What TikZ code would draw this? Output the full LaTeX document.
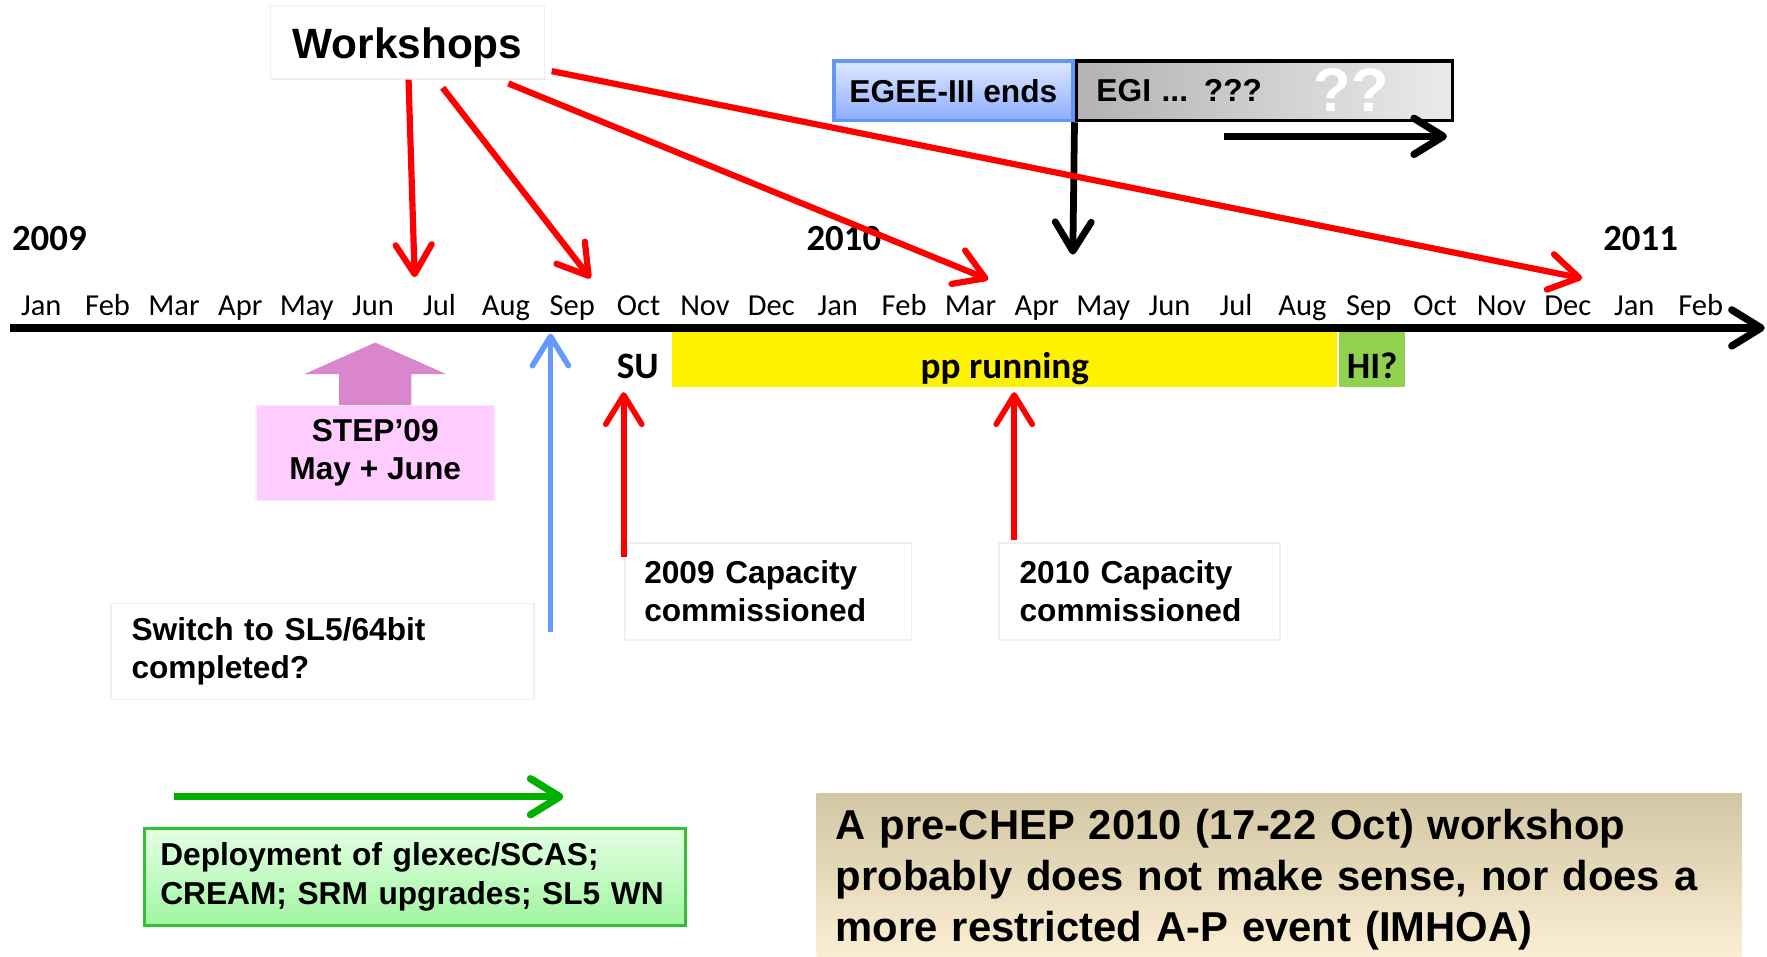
\documentclass[tikz,border=0pt]{standalone}
\usepackage{fontspec}
\setmainfont{Liberation Sans}
\newfontfamily\calibri{Carlito}
\usetikzlibrary{arrows.meta,positioning}

\definecolor{stepfill}{RGB}{255,204,255}
\definecolor{steparrow}{RGB}{217,134,204}
\definecolor{slblue}{RGB}{102,153,255}
\definecolor{egeetop}{RGB}{222,231,255}
\definecolor{egeebot}{RGB}{140,174,255}
\definecolor{egeeline}{RGB}{100,150,245}
\definecolor{higreen}{RGB}{146,208,80}
\definecolor{depgreen}{RGB}{0,176,0}
\definecolor{deptop}{RGB}{228,255,228}
\definecolor{depbot}{RGB}{160,245,160}
\definecolor{cheptop}{RGB}{211,198,163}
\definecolor{chepbot}{RGB}{253,240,214}

\newcommand\midfont{\fontsize{8pt}{9.7pt}\selectfont\bfseries}
\newcommand\bigfont{\fontsize{10.55pt}{12.8pt}\selectfont\bfseries}
\newcommand\calfont{\calibri\fontsize{9.4pt}{11pt}\selectfont\bfseries}

\tikzset{
  chev/.style={-{Straight Barb[length=2.6mm,width=3.2mm,round]}},
  wsarrow/.style={chev,red,line width=0.55mm},
  uparrow/.style={chev,red,line width=0.5mm},
  note/.style={draw=black!6,fill=white,anchor=north west,align=left,inner xsep=1.8mm,inner ysep=0pt,font=\midfont},
  month/.style={anchor=base,inner sep=0,font=\calibri\fontsize{7.7pt}{9pt}\selectfont},
  year/.style={anchor=base west,inner sep=0,font=\calibri\fontsize{9.3pt}{11pt}\selectfont\bfseries},
  period/.style={anchor=north west,inner sep=0,minimum height=5mm,text height=3.5mm,text depth=0pt,font=\calfont},
}

\begin{document}
\begin{tikzpicture}[x=0.1mm,y=-0.1mm]
	\clip (0,0) rectangle (1568,849);
	% running periods
	\node[period,fill=yellow,minimum width=59mm] (pp) at (596,293) {pp running};
	\node[period,fill=higreen,minimum width=5.9mm] (hi) at (pp.north east) {HI?};
	\node[inner sep=0,font=\calfont] (su) at (566,325) {SU};
	
	% time axis
	\coordinate (ax0) at (9,291);
	\coordinate (ax1) at (1566,291);
	\draw[chev,line width=0.65mm] (ax0) -- (ax1);
	\foreach \m [count=\i from 0] in {Jan,Feb,Mar,Apr,May,Jun,Jul,Aug,Sep,Oct,Nov,Dec,Jan,Feb,Mar,Apr,May,Jun,Jul,Aug,Sep,Oct,Nov,Dec,Jan,Feb}
	\node[month] (m\i) at ({36.6+58.9*\i},280) {\m};
	\node[year] (y09) at (10,222) {2009};
	\node[year] (y10) at (715,222) {2010};
	\node[year] (y11) at (1422,222) {2011};
	
	% EGEE / EGI
	\node[draw=egeeline,line width=0.3mm,top color=egeetop,bottom color=egeebot,inner sep=0,minimum width=21.2mm,minimum height=5.3mm,font=\midfont] (egee) at (846,80.5) {EGEE-III ends};
	\node[draw=black,line width=0.3mm,left color=black!30,right color=black!8,anchor=west,minimum width=33.4mm,minimum height=5.3mm,text width=29.8mm,inner xsep=1.8mm,inner ysep=0,align=left,font=\midfont] (egi) at (egee.east) {EGI ... ???};
	\node[text=white,inner sep=0,font=\fontsize{15.5pt}{17pt}\selectfont\bfseries] (qq) at (1199,80) {??};
	\coordinate (egiend) at (952,226);
	\draw[chev,line width=0.6mm] (egi.south west) -- (egiend);
	\coordinate (go0) at (1086,121);
	\coordinate (go1) at (1284,121);
	\draw[chev,line width=0.65mm] (go0) -- (go1);
	
	% workshops
	\node[draw=black!6,fill=white,minimum width=24.3mm,minimum height=6.5mm,text height=3.3mm,text depth=0.4mm,font=\fontsize{10.7pt}{12pt}\selectfont\bfseries] (ws) at (361.5,37.5) {Workshops};
	\coordinate (w1) at (368,246);
	\coordinate (w2) at (524,247);
	\coordinate (w3) at (877,248);
	\coordinate (w4) at (1404,247);
	\draw[wsarrow] (ws) -- (w1);
	\draw[wsarrow,shorten <=0.9mm] (ws) -- (w2);
	\draw[wsarrow,shorten <=0.9mm] (ws) -- (w3);
	\draw[wsarrow,shorten <=0.6mm] (ws) -- (w4);
	
	% STEP'09
	\fill[steparrow] (301,360) -- (301,332) -- (270,332) -- (333,304) -- (396,332) -- (365,332) -- (365,360) -- cycle;
	\node[draw=black!5,fill=stepfill,minimum width=21.2mm,minimum height=8.4mm,align=center,font=\midfont] (step) at (333,402) {STEP’09\\May + June};
	
	% SL5
	\coordinate (sl0) at (488.5,561);
	\coordinate (sl1) at (488.5,296);
	\draw[chev,slblue,line width=0.5mm] (sl0) -- (sl1);
	\node[note,text width=33.9mm,minimum height=8.5mm] (sl5) at (98,535) {Switch to SL5/64bit\\completed?};
	
	% capacity
	\node[note,text width=22mm,inner xsep=1.7mm,minimum height=8.6mm] (cap09) at (554,481) {2009 Capacity\\commissioned};
	\node[note,text width=21.3mm,minimum height=8.6mm] (cap10) at (886,481) {2010 Capacity\\commissioned};
	\coordinate (su0) at (553.5,494);
	\coordinate (su1) at (553.5,348);
	\draw[uparrow] (su0) -- (su1);
	\coordinate (pp0) at (900,479);
	\coordinate (pp1) at (900,348);
	\draw[uparrow] (pp0) -- (pp1);
	
	% deployment
	\coordinate (dp0) at (154,707);
	\coordinate (dp1) at (500,707);
	\draw[chev,depgreen,line width=0.65mm] (dp0) -- (dp1);
	\node[note,draw=depgreen!80,line width=0.25mm,top color=deptop,bottom color=depbot,text width=45.2mm,inner xsep=1.4mm,minimum height=8.6mm] (dep) at (127,734) {Deployment of glexec/SCAS;\\CREAM; SRM upgrades; SL5 WN};
	
	% CHEP remark
	\node[note,draw=none,top color=cheptop,bottom color=chepbot,text width=78.7mm,inner xsep=1.7mm,minimum height=15.4mm,font=\bigfont] (chep) at (724,703) {A pre-CHEP 2010 (17-22 Oct) workshop\\probably does not make sense, nor does a\\more restricted A-P event (IMHOA)};
\end{tikzpicture}
\end{document}
